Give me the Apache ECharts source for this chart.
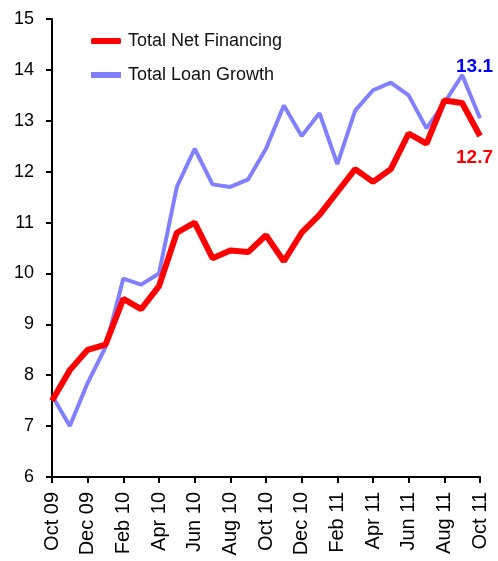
<!DOCTYPE html>
<html>
<head>
<meta charset="utf-8">
<script src="https://cdn.jsdelivr.net/npm/echarts@6/dist/echarts.min.js"></script>
<style>
html,body{margin:0;padding:0;background:#fff;}
#chart{width:498px;height:561px;}
</style>
</head>
<body>
<div id="chart"></div>
<script>
var months = ['Oct 09','Nov 09','Dec 09','Jan 10','Feb 10','Mar 10','Apr 10','May 10','Jun 10','Jul 10','Aug 10','Sep 10','Oct 10','Nov 10','Dec 10','Jan 11','Feb 11','Mar 11','Apr 11','May 11','Jun 11','Jul 11','Aug 11','Sep 11','Oct 11'];
var netFinancing = [7.5, 8.1, 8.5, 8.6, 9.5, 9.3, 9.75, 10.8, 11.0, 10.3, 10.45, 10.42, 10.75, 10.24, 10.8, 11.15, 11.6, 12.05, 11.8, 12.05, 12.75, 12.55, 13.4, 13.35, 12.7];
var loanGrowth = [7.6, 7.0, 7.85, 8.55, 9.9, 9.78, 10.0, 11.7, 12.45, 11.75, 11.7, 11.85, 12.45, 13.3, 12.7, 13.15, 12.15, 13.2, 13.6, 13.75, 13.5, 12.85, 13.35, 13.9, 13.05];
var seriesNames = ['Total Net Financing', 'Total Loan Growth'];
var endLabels = ['12.7', '13.1'];
var yTicks = {min: 6, max: 15, interval: 1};

var FONT = '"Liberation Sans", Arial, sans-serif';
var chart = echarts.init(document.getElementById('chart'));
chart.setOption({
  animation: false,
  backgroundColor: '#ffffff',
  grid: {left: 52, right: 18, top: 19, bottom: 84, containLabel: false},
  legend: {
    orient: 'vertical',
    left: 91,
    top: 32,
    padding: 0,
    itemWidth: 30,
    itemHeight: 6,
    itemGap: 16,
    textStyle: {fontFamily: FONT, fontSize: 18, color: '#111', lineHeight: 18, padding: [0, 0, 0, 2]},
    data: [
      {name: seriesNames[0], icon: 'roundRect'},
      {name: seriesNames[1], icon: 'rect'}
    ]
  },
  xAxis: {
    type: 'category',
    data: months,
    boundaryGap: false,
    axisLine: {lineStyle: {color: '#000', width: 2}},
    axisTick: {show: true, interval: 1, length: 6, lineStyle: {color: '#000', width: 2}},
    axisLabel: {interval: 1, rotate: 90, margin: 15, fontFamily: FONT, fontSize: 20, color: '#000'},
    splitLine: {show: false}
  },
  yAxis: {
    type: 'value',
    min: yTicks.min,
    max: yTicks.max,
    interval: yTicks.interval,
    axisLine: {show: true, lineStyle: {color: '#000', width: 2}},
    axisTick: {show: true, inside: false, length: 6, lineStyle: {color: '#000', width: 2}},
    axisLabel: {margin: 18, fontFamily: FONT, fontSize: 18, color: '#000'},
    splitLine: {show: false}
  },
  series: [
    {
      name: seriesNames[1],
      type: 'line',
      data: loanGrowth,
      showSymbol: false,
      symbol: 'none',
      z: 2,
      lineStyle: {color: '#8080ff', width: 4},
      itemStyle: {color: '#8080ff'},
      endLabel: {
        show: true,
        formatter: function(){ return endLabels[1]; },
        offset: [-32, -51],
        fontFamily: FONT, fontSize: 19, fontWeight: 'bold', color: '#0000ff'
      }
    },
    {
      name: seriesNames[0],
      type: 'line',
      data: netFinancing,
      showSymbol: false,
      symbol: 'none',
      z: 3,
      lineStyle: {color: '#ff0000', width: 6},
      itemStyle: {color: '#ff0000'},
      endLabel: {
        show: true,
        formatter: function(){ return endLabels[0]; },
        offset: [-32, 22],
        fontFamily: FONT, fontSize: 19, fontWeight: 'bold', color: '#ff0000'
      }
    }
  ]
});
</script>
</body>
</html>
